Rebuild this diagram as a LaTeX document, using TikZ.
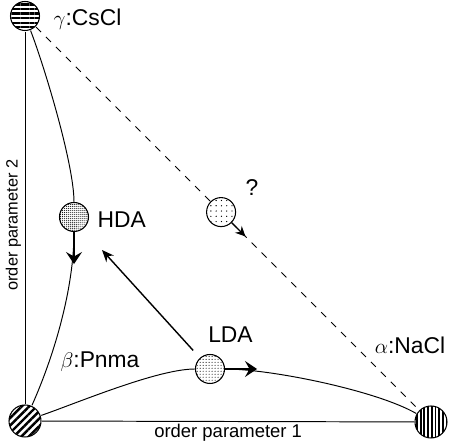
\documentclass[tikz,border=0pt]{standalone}
\usepackage{fontspec}
\setmainfont{Liberation Sans}
\usepackage{tikz}
\usetikzlibrary{arrows.meta, positioning, patterns.meta, calc}
\tikzstyle{phase} = [circle, draw=black, line width=0.6pt,
minimum size=0.58cm, inner sep=0pt, preaction={fill=white}]
\tikzstyle{bigphase} = [phase, minimum size=0.64cm]
\tikzstyle{stripeh} = [pattern={Lines[angle=0, distance=2.6pt, line width=1.3pt]}]
\tikzstyle{stripediag} = [pattern={Lines[angle=45, distance=3pt, line width=1.4pt]}]
\tikzstyle{stripev} = [pattern={Lines[angle=90, distance=2.1pt, line width=1.05pt]}]
\tikzstyle{densedots} = [pattern={Dots[radius=0.32pt, distance=1.15pt]}]
\tikzstyle{middots} = [pattern={Dots[radius=0.32pt, distance=1.7pt]}]
\tikzstyle{sparsedots} = [pattern={Dots[radius=0.38pt, distance=3pt]}]
\tikzstyle{curve} = [line width=0.55pt]
\tikzstyle{lbl} = [inner sep=1pt, font=\fontsize{13}{15}\selectfont]
\tikzstyle{heavyarrow} = [-{Stealth[length=2.4mm, width=3.2mm, inset=0.9mm]}, line width=1.4pt]
\tikzstyle{thinarrow} = [-{Stealth[length=2.4mm, width=2mm]}, line width=0.8pt]
\tikzstyle{midarrow} = [-{Stealth[length=2mm, width=1.9mm]}, line width=0.7pt]

\begin{document}
\begin{tikzpicture}[node distance=0.2cm]
    \useasboundingbox (0,0) rectangle (9.02,8.86);
    % crystalline end points
    \node (gam) [phase, stripeh] at (0.5,8.54) {};
    \node (bet) [bigphase, stripediag] at (0.5,0.44) {};
    \node (alp) [bigphase, stripev] at (8.62,0.42) {};
    % amorphous states
    \node (hda) [phase, densedots] at (1.48,4.52) {};
    \node (lda) [phase, middots] at (4.2,1.48) {};
    \node (unk) [phase, sparsedots] at ($(gam)!0.483!(alp)$) {};

    \draw[curve] (gam) -- node[rotate=90, anchor=south, inner sep=2pt, pos=0.52,
        font=\fontsize{9.3}{11}\selectfont] {order parameter 2} (bet);
    \draw[curve] (bet) -- node[below, inner sep=1.5pt,
        font=\fontsize{10.5}{12}\selectfont] {order parameter 1} (alp);
    \draw[curve, dash pattern=on 4pt off 4pt] (gam) -- (unk);
    \draw[curve, dash pattern=on 4pt off 4pt] (unk) -- (alp);

    \draw[curve] (gam) to[out=-69, in=90, looseness=0.55] (hda);
    \draw[curve] (hda) to[out=-90, in=66, looseness=0.8] (bet);
    \draw[curve] (bet) to[out=19, in=180, looseness=0.6] (lda);
    \draw[curve] (lda) to[out=0, in=150, looseness=0.6] (alp);

    \coordinate[below=0.64cm of hda.south] (hdatip);
    \coordinate[right=0.64cm of lda.east] (ldatip);
    \coordinate (transtip) at (2.04,3.86);
    \coordinate (unktip) at ($(gam)!0.543!(alp)$);
    \draw[heavyarrow] (hda) -- (hdatip);
    \draw[heavyarrow] (lda) -- (ldatip);
    \draw[thinarrow, shorten <=0.2cm] (lda) -- (transtip);
    \draw[midarrow] (unk) -- (unktip);

    \node (gamlbl) [lbl, right=0.22cm of gam, yshift=-2pt] {$\gamma$:CsCl};
    \node (hdalbl) [lbl, right=0.13cm of hda, yshift=-1.5pt] {HDA};
    \node (ldalbl) [lbl, above=0.19cm of lda, xshift=0.41cm] {LDA};
    \node (betlbl) [lbl] at (2.0,1.62) {$\beta$:Pnma};
    \node (alplbl) [lbl] at (8.2,1.96) {$\alpha$:NaCl};
    \node (unklbl) [lbl] at (5.04,5.1) {?};
\end{tikzpicture}
\end{document}
